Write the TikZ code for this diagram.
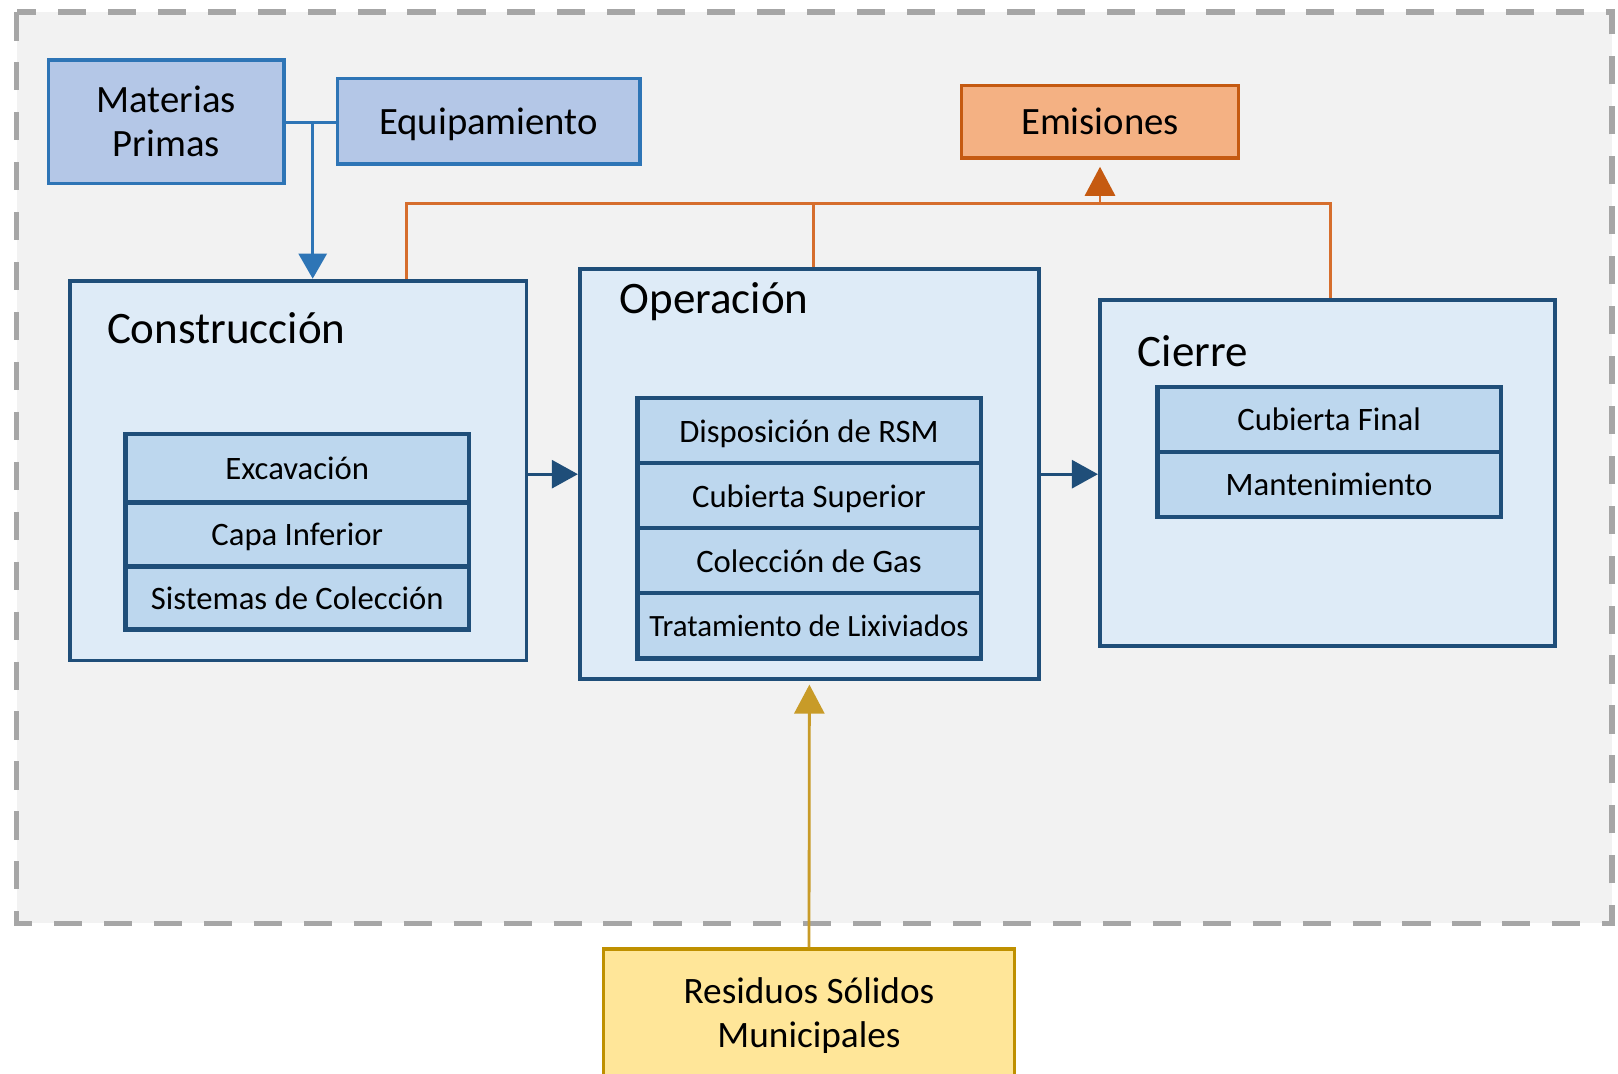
\documentclass[tikz,border=0pt]{standalone}
\usepackage{fontspec}
\setmainfont{Carlito}
\usepackage{xcolor}
\usetikzlibrary{arrows.meta, positioning}
\definecolor{cBack}{RGB}{242,242,242}
\definecolor{cDash}{RGB}{166,166,166}
\definecolor{cInFill}{RGB}{180,199,231}
\definecolor{cInDraw}{RGB}{46,117,182}
\definecolor{cStage}{RGB}{31,78,121}
\definecolor{cStageFill}{RGB}{222,235,247}
\definecolor{cSubFill}{RGB}{189,215,238}
\definecolor{cEmFill}{RGB}{244,177,131}
\definecolor{cEmDraw}{RGB}{197,90,17}
\definecolor{cEmLine}{RGB}{214,110,45}
\definecolor{cResFill}{RGB}{255,230,153}
\definecolor{cResDraw}{RGB}{191,144,0}
\definecolor{cResLine}{RGB}{200,155,40}
\tikzset{
	inbox/.style={rectangle, draw=cInDraw, fill=cInFill, line width=1pt, align=center, text centered, font=\fontsize{11}{12.5}\selectfont},
	emisbox/.style={rectangle, draw=cEmDraw, fill=cEmFill, line width=1pt, align=center, font=\fontsize{11}{12.5}\selectfont},
	wastebox/.style={rectangle, draw=cResDraw, fill=cResFill, line width=1.1pt, align=center, font=\fontsize{10.6}{12.6}\selectfont},
	stagebox/.style={rectangle, draw=cStage, fill=cStageFill, line width=1.1pt},
	stagetitle/.style={anchor=west, inner sep=0pt, font=\fontsize{12.8}{15}\selectfont},
	% stacked sub-step cells
	subbox/.style={rectangle, draw=cStage, fill=cSubFill, line width=1.2pt, minimum width=3.43cm, minimum height=0.65cm, outer sep=0pt, inner sep=1pt, text depth=0pt, text centered, font=\fontsize{9.3}{11}\selectfont},
	flowarrow/.style={-{Triangle[length=2.6mm, width=2.8mm]}, line width=0.8pt},
}

\begin{document}
\begin{tikzpicture}[x=0.01cm, y=-0.01cm]
	\useasboundingbox (0,0) rectangle (1618,1074);
	\fill[cBack] (16.5,12.4) rectangle (1612,923.5);
	\draw[cDash, line width=1.7pt, dash pattern=on 8pt off 6.2pt] (16.5,12.4) rectangle (1612,923.5);

	% inputs and output
	\node[inbox, minimum width=2.353cm, minimum height=1.238cm] (mat) at (166.2,121.8) {Materias\\Primas};
	\node[inbox, text depth=0pt, minimum width=3.024cm, minimum height=0.857cm] (equ) at (488.6,121.3) {Equipamiento};
	\node[emisbox, minimum width=2.766cm, minimum height=0.723cm] (emi) at (1100,121.8) {Emisiones};
	\node[wastebox, minimum width=4.107cm, minimum height=1.32cm] (res) at (809,1015.3) {Residuos Sólidos\\Municipales};

	% stages
	\node[stagebox, minimum width=4.561cm, minimum height=3.797cm] (con) at (298.3,470.6) {};
	\node[stagebox, minimum width=4.589cm, minimum height=4.097cm] (ope) at (809.4,474.2) {};
	\node[stagebox, minimum width=4.55cm, minimum height=3.457cm] (cie) at (1327.5,473.2) {};
	\node[stagetitle] (conT) at (106.3,328) {Construcción};
	\node[stagetitle] (opeT) at (619,302) {Operación};
	\node[stagetitle] (cieT) at (1137,351) {Cierre};

	\node[subbox, minimum height=0.68cm] (c1) at (297.2,468.4) {Excavación};
	\node[subbox, minimum height=0.64cm, below=0pt of c1] (c2) {Capa Inferior};
	\node[subbox, minimum height=0.63cm, below=0pt of c2] (c3) {Sistemas de Colección};

	\node[subbox] (o1) at (809,430.8) {Disposición de RSM};
	\node[subbox, below=0pt of o1] (o2) {Cubierta Superior};
	\node[subbox, below=0pt of o2] (o3) {Colección de Gas};
	\node[subbox, below=0pt of o3, font=\fontsize{8.8}{10.5}\selectfont] (o4) {Tratamiento de Lixiviados};

	\node[subbox] (k1) at (1329.1,419.5) {Cubierta Final};
	\node[subbox, below=0pt of k1] (k2) {Mantenimiento};

	% connectors
	\coordinate (mj) at (312.7,122.8);
	\coordinate (eL) at (406.6,203.3);
	\coordinate (eM) at (813.1,203.3);
	\coordinate (eR) at (1330.1,203.3);
	\draw[cInDraw, line width=0.8pt] (mat.east |- mj) -- (equ.west |- mj);
	\draw[flowarrow, cInDraw, -{Triangle[length=2.5mm, width=2.8mm]}] (mj) -- (mj |- con.north);
	\draw[flowarrow, cStage] (con.east |- ope.west) -- (ope.west);
	\draw[flowarrow, cStage] (ope.east) -- (cie.west |- ope.east);
	\draw[cEmLine, line width=0.8pt] (eL |- con.north) -- (eL) -- (eR) -- (eR |- cie.north);
	\draw[cEmLine, line width=0.8pt] (eM |- ope.north) -- (eM);
	\draw[cEmLine, line width=0.8pt, -{Triangle[length=2.9mm, width=3mm, color=cEmDraw]}, shorten >=2pt] (emi.south |- eL) -- (emi.south);
	\draw[cResLine, line width=0.8pt, -{Triangle[length=2.9mm, width=3mm]}, shorten >=1pt] (res.north) -- (ope.south);
\end{tikzpicture}
\end{document}
